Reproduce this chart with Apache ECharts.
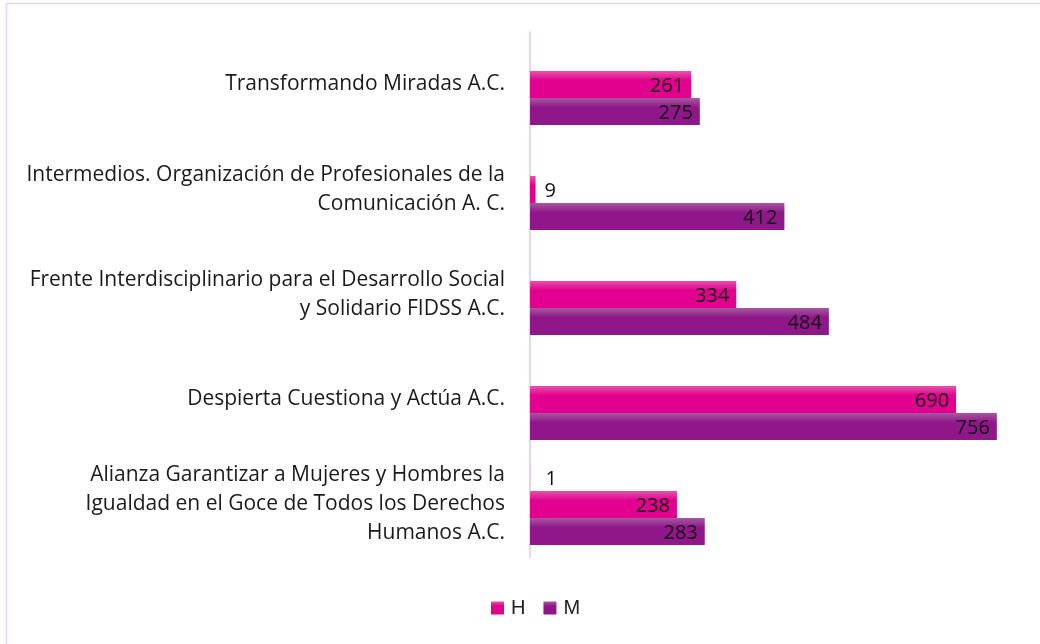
<!DOCTYPE html>
<html>
<head>
<meta charset="utf-8">
<style>
  html, body { margin: 0; padding: 0; background: #fff; }
  #chart { width: 1040px; height: 644px; }
</style>
<script src="https://cdn.jsdelivr.net/npm/echarts@6/dist/echarts.min.js"></script>
</head>
<body>
<div id="chart"></div>
<script>
// categories, top to bottom
const categories = [
  'Transformando Miradas A.C.',
  'Intermedios. Organización de Profesionales de la\nComunicación A. C.',
  'Frente Interdisciplinario para el Desarrollo Social\ny Solidario FIDSS A.C.',
  'Despierta Cuestiona y Actúa A.C.',
  'Alianza Garantizar a Mujeres y Hombres la\nIgualdad en el Goce de Todos los Derechos\nHumanos A.C.'
]
// unnamed extra series (only one value, no legend entry)
const otros = [null, null, null, null, 1]
const hValues = [261, 9, 334, 690, 238]
const mValues = [275, 412, 484, 756, 283]

const labelFont = '"Open Sans", Lato, sans-serif'

const grad = (top, bottom) => new echarts.graphic.LinearGradient(0, 0, 0, 1, [
  { offset: 0, color: top },
  { offset: 0.35, color: bottom },
  { offset: 1, color: bottom },
])

const insideLabel = {
  show: true,
  position: 'insideRight',
  distance: 7,
  offset: [0, 2],
  color: '#111',
  fontSize: 20,
  fontFamily: labelFont,
}

const chart = echarts.init(document.getElementById('chart'))

const option = {
  animation: false,
  graphic: [
    {
      type: 'rect',
      shape: { x: 6.5, y: 3.5, width: 1100, height: 700 },
      style: { fill: 'none', stroke: '#e8d3ea', lineWidth: 1.5 },
      silent: true,
    },
  ],
  grid: {
    left: 530,
    right: 16,
    top: 32,
    bottom: 87,
  },
  legend: {
    data: ['H', 'M'],
    bottom: 21,
    left: 486,
    itemWidth: 13,
    itemHeight: 13,
    itemGap: 18,
    icon: 'rect',
    textStyle: { fontSize: 20, color: '#222', fontFamily: '"Liberation Sans", Arial, sans-serif', padding: [0, 0, 0, 2] },
  },
  xAxis: {
    type: 'value',
    min: 0,
    max: 800,
    show: false,
  },
  yAxis: {
    type: 'category',
    data: categories,
    inverse: true,
    axisTick: { show: false },
    axisLine: { show: true, lineStyle: { color: '#ecd2ec', width: 2 } },
    axisLabel: {
      margin: 25,
      fontSize: 21,
      lineHeight: 29,
      color: '#1a1a1a',
      fontFamily: labelFont,
      align: 'right',
    },
  },
  series: [
    {
      name: 'Otros',
      type: 'bar',
      barWidth: 27,
      barGap: '0%',
      data: otros,
      itemStyle: { color: '#f3c4e3' },
      label: { ...insideLabel, position: 'right', distance: 15 },
    },
    {
      name: 'H',
      type: 'bar',
      barWidth: 27,
      barGap: '0%',
      data: hValues.map((v) => v < 50
        ? { value: v, label: { position: 'right', distance: 9 } }
        : v),
      itemStyle: { color: grad('#e752aa', '#e2008e') },
      label: insideLabel,
    },
    {
      name: 'M',
      type: 'bar',
      barWidth: 27,
      barGap: '0%',
      data: mValues,
      itemStyle: { color: grad('#a6589f', '#901789') },
      label: insideLabel,
    },
  ],
}

chart.setOption(option)
</script>
</body>
</html>
